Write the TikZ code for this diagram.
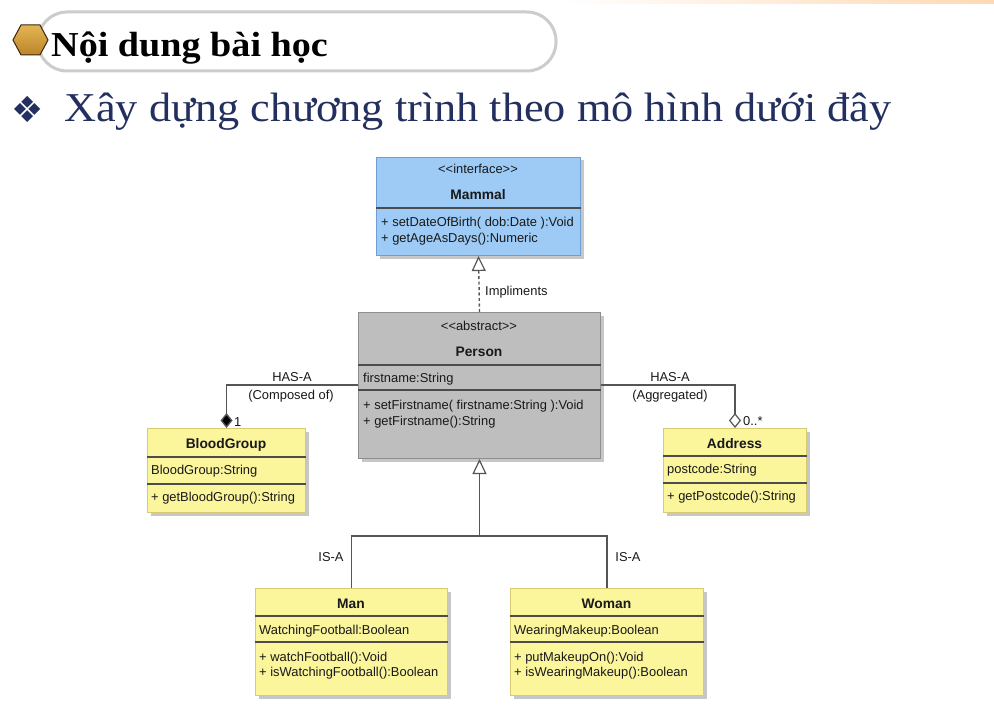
\documentclass[tikz,border=0pt]{standalone}
\usepackage{fontspec}
\setmainfont{Liberation Serif}
\newfontfamily\umlfont{Liberation Sans}
\newfontfamily\symfont{DejaVu Sans}
\usetikzlibrary{arrows.meta,shadows}

\definecolor{ifacefill}{HTML}{9DCBF6}
\definecolor{ifaceline}{HTML}{6F9FD0}
\definecolor{absfill}{HTML}{BEBEBE}
\definecolor{absline}{HTML}{8E8E8E}
\definecolor{clsfill}{HTML}{FBF59C}
\definecolor{clsline}{HTML}{D6CA72}
\definecolor{navy}{HTML}{232F5E}
\definecolor{wire}{HTML}{555555}
\definecolor{goldtop}{HTML}{E6B552}
\definecolor{goldbot}{HTML}{B8862A}

\tikzset{
  classbox/.style={draw, line width=1pt, anchor=north west, inner sep=0pt,
    drop shadow={shadow xshift=3pt, shadow yshift=-3pt, opacity=0.22, fill=black}},
  divider/.style={line width=1.2pt, draw=black!70},
  member/.style={font=\umlfont\fontsize{12.9}{14}\selectfont, inner sep=0pt, anchor=base west, text=black!90},
  centred/.style={member, anchor=base},
  classname/.style={font=\umlfont\bfseries\fontsize{13.8}{15}\selectfont, inner sep=0pt, anchor=base, text=black!90},
  link/.style={draw=wire, line width=1.4pt},
  opentri/.style={-{Triangle[open, length=15pt, width=14pt, line width=1.2pt]}},
}

\begin{document}
\begin{tikzpicture}[x=1pt, y=-1pt]
\useasboundingbox[fill=white] (0,0) rectangle (994,706);

% faint accent strip along the top edge
\shade[left color=white, right color=orange!30] (560,0) rectangle (994,4);

% ---- section header ----
\draw[line width=3pt, draw=black!20, fill=white, rounded corners=29pt] (38,12) rectangle (556,71);
\draw[line width=1pt, draw=black!70!brown, top color=goldtop, bottom color=goldbot]
  (13,40) -- (21,25) -- (40,25) -- (48,40) -- (40,55) -- (21,55) -- cycle;
\node[anchor=base west, inner sep=0pt, xscale=1.09, font=\bfseries\fontsize{35}{38}\selectfont] (head) at (51,57) {Nội dung bài học};

% ---- task line ----
\node[anchor=base west, inner sep=0pt, text=navy, font=\symfont\fontsize{36}{40}\selectfont] (bullet) at (11,123) {❖};
\node[anchor=base west, inner sep=0pt, xscale=1.08, text=navy, font=\fontsize{41}{46}\selectfont] (task) at (64,122) {Xây dựng chương trình theo mô hình dưới đây};

% ---- Mammal (interface) ----
\node[classbox, fill=ifacefill, draw=ifaceline, minimum width=204pt, minimum height=98pt] (mammal) at (376,157) {};
\node[centred] at (478,174) {<<interface>>};
\node[classname] at (478,200) {Mammal};
\draw[divider] (mammal.west |- 0,208) -- (mammal.east |- 0,208);
\node[member] at (381,226) {+ setDateOfBirth( dob:Date ):Void};
\node[member] at (381,243) {+ getAgeAsDays():Numeric};

% ---- Person (abstract) ----
\node[classbox, fill=absfill, draw=absline, minimum width=242pt, minimum height=146pt] (person) at (358,312) {};
\node[centred] at (479,330) {<<abstract>>};
\node[classname] at (479,356) {Person};
\draw[divider] (person.west |- 0,365) -- (person.east |- 0,365);
\node[member] at (363,382) {firstname:String};
\draw[divider] (person.west |- 0,390) -- (person.east |- 0,390);
\node[member] at (363,409) {+ setFirstname( firstname:String ):Void};
\node[member] at (363,425) {+ getFirstname():String};

% ---- BloodGroup ----
\node[classbox, fill=clsfill, draw=clsline, minimum width=158pt, minimum height=84pt] (blood) at (147,428) {};
\node[classname] at (226,448) {BloodGroup};
\draw[divider] (blood.west |- 0,457) -- (blood.east |- 0,457);
\node[member] at (151,474) {BloodGroup:String};
\draw[divider] (blood.west |- 0,484) -- (blood.east |- 0,484);
\node[member] at (151,501) {+ getBloodGroup():String};

% ---- Address ----
\node[classbox, fill=clsfill, draw=clsline, minimum width=143pt, minimum height=84pt] (address) at (663,428) {};
\node[classname] at (734.5,448) {Address};
\draw[divider] (address.west |- 0,456) -- (address.east |- 0,456);
\node[member] at (667,473) {postcode:String};
\draw[divider] (address.west |- 0,483) -- (address.east |- 0,483);
\node[member] at (667,500) {+ getPostcode():String};

% ---- Man ----
\node[classbox, fill=clsfill, draw=clsline, minimum width=192pt, minimum height=107pt] (man) at (255,588) {};
\node[classname] at (351,608) {Man};
\draw[divider] (man.west |- 0,616) -- (man.east |- 0,616);
\node[member] at (259,634) {WatchingFootball:Boolean};
\draw[divider] (man.west |- 0,642) -- (man.east |- 0,642);
\node[member] at (259,661) {+ watchFootball():Void};
\node[member] at (259,676) {+ isWatchingFootball():Boolean};

% ---- Woman ----
\node[classbox, fill=clsfill, draw=clsline, minimum width=193pt, minimum height=107pt] (woman) at (510,588) {};
\node[classname] at (606.5,608) {Woman};
\draw[divider] (woman.west |- 0,616) -- (woman.east |- 0,616);
\node[member] at (514,634) {WearingMakeup:Boolean};
\draw[divider] (woman.west |- 0,642) -- (woman.east |- 0,642);
\node[member] at (514,661) {+ putMakeupOn():Void};
\node[member] at (514,676) {+ isWearingMakeup():Boolean};

% ---- relations ----
% realisation
\draw[link, dash pattern=on 3pt off 2.5pt, opentri] (person.north) -- (mammal.south);
\node[member] at (485,295) {Impliments};

% composition
\draw[link, -{Diamond[length=15pt, width=12pt, fill=black]}] (person.west |- 0,385) -| (blood.north);
\node[centred] at (292,381) {HAS-A};
\node[centred] at (291,399) {(Composed of)};
\node[member] at (234,426) {1};

% aggregation
\draw[link, -{Diamond[open, length=15pt, width=12pt, line width=1.2pt]}] (person.east |- 0,385) -| (address.north);
\node[centred] at (670,381) {HAS-A};
\node[centred] at (670,399) {(Aggregated)};
\node[member] at (743,425) {0..*};

% generalisation
\coordinate (fork) at (person.south |- 0,536);
\draw[link] (man.north) |- (fork) -| (woman.north);
\draw[link, opentri] (fork) -- (person.south);
\node[centred] at (331,561) {IS-A};
\node[centred] at (628,561) {IS-A};
\end{tikzpicture}
\end{document}
